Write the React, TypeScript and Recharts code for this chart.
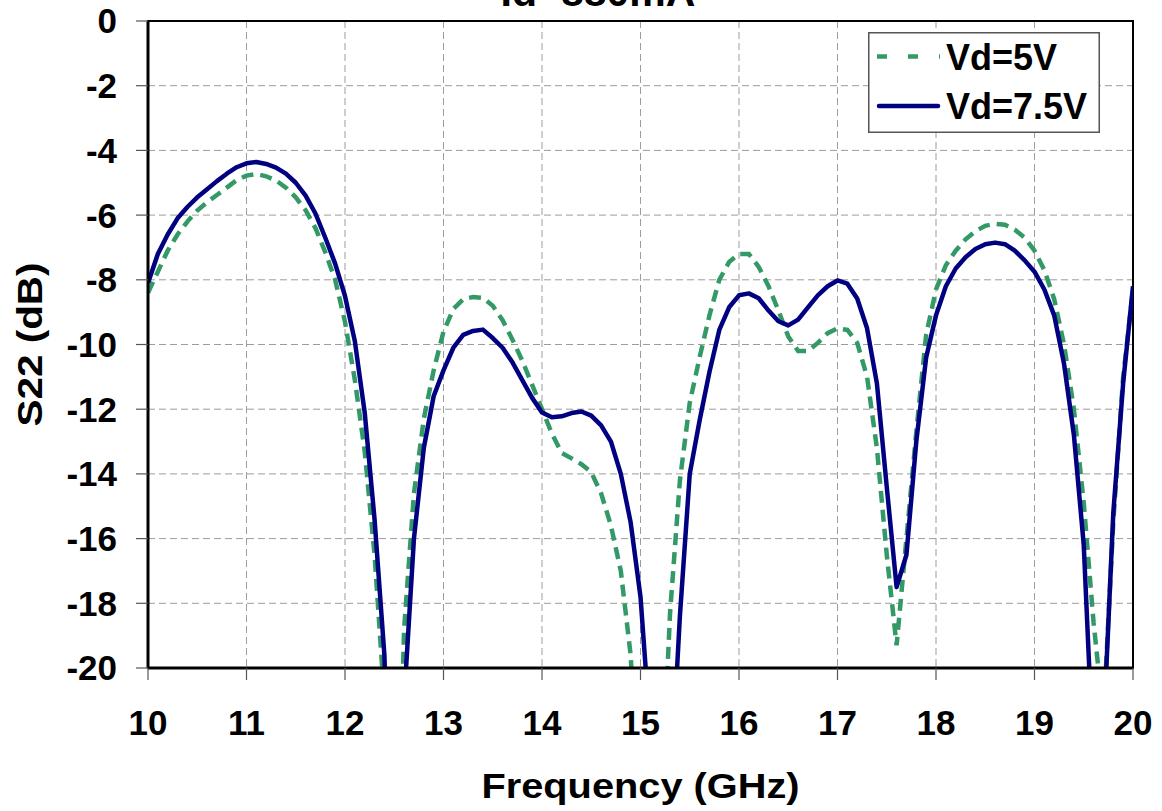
import React from 'react';
import { LineChart, Line, XAxis, YAxis, CartesianGrid, Legend, ReferenceArea, Label } from 'recharts';

const FONT = '"Liberation Sans", Arial, Helvetica, sans-serif';

const freqGHz: number[] = [
  10.0, 10.1, 10.2, 10.3, 10.4, 10.5, 10.6, 10.7, 10.8, 10.9,
  11.0, 11.1, 11.2, 11.3, 11.4, 11.5, 11.6, 11.7, 11.8, 11.9,
  12.0, 12.1, 12.2, 12.3, 12.4, 12.5, 12.6, 12.7, 12.8, 12.9,
  13.0, 13.1, 13.2, 13.3, 13.4, 13.5, 13.6, 13.7, 13.8, 13.9,
  14.0, 14.1, 14.2, 14.3, 14.4, 14.5, 14.6, 14.7, 14.8, 14.9,
  15.0, 15.1, 15.2, 15.3, 15.4, 15.5, 15.6, 15.7, 15.8, 15.9,
  16.0, 16.1, 16.2, 16.3, 16.4, 16.5, 16.6, 16.7, 16.8, 16.9,
  17.0, 17.1, 17.2, 17.3, 17.4, 17.5, 17.6, 17.7, 17.8, 17.9,
  18.0, 18.1, 18.2, 18.3, 18.4, 18.5, 18.6, 18.7, 18.8, 18.9,
  19.0, 19.1, 19.2, 19.3, 19.4, 19.5, 19.6, 19.7, 19.8, 19.9,
  20.0,
];

const s22Vd5: number[] = [
  -8.4, -7.75, -7.1, -6.6, -6.2, -5.86, -5.6, -5.38, -5.15, -4.92,
  -4.78, -4.73, -4.8, -4.93, -5.15, -5.45, -5.85, -6.4, -7.15, -8.0,
  -9.3, -11.1, -13.3, -16.5, -21, -30, -18.8, -14.6, -12.3, -10.8,
  -9.6, -8.9, -8.6, -8.53, -8.56, -8.8, -9.25, -9.85, -10.5, -11.25,
  -12.0, -12.75, -13.35, -13.52, -13.7, -13.95, -14.6, -15.6, -17.0, -19.6,
  -25, -30, -25, -18.3, -14.2, -11.8, -10.4, -9.1, -8.0, -7.45,
  -7.2, -7.2, -7.6, -8.2, -8.95, -9.75, -10.2, -10.2, -9.95, -9.65,
  -9.5, -9.55, -9.95, -11.0, -13.2, -16.5, -19.3, -16.0, -12.7, -9.7,
  -8.3, -7.55, -7.1, -6.75, -6.5, -6.33, -6.27, -6.3, -6.45, -6.7,
  -7.1, -7.7, -8.6, -10.0, -12.0, -14.9, -18.6, -21.5, -15.5, -11.0,
  -8.3,
];

const s22Vd75: number[] = [
  -8.1, -7.2, -6.6, -6.1, -5.75, -5.45, -5.2, -4.95, -4.72, -4.52,
  -4.4, -4.36, -4.42, -4.53, -4.72, -5.0, -5.4, -5.95, -6.7, -7.5,
  -8.5, -9.9, -12.1, -15.4, -19.6, -30, -21, -16.0, -13.2, -11.6,
  -10.8, -10.1, -9.7, -9.58, -9.54, -9.8, -10.1, -10.55, -11.1, -11.65,
  -12.1, -12.25, -12.22, -12.12, -12.07, -12.2, -12.5, -13.0, -14.0, -15.5,
  -17.8, -22, -30, -24, -18.4, -14.0, -12.35, -10.85, -9.55, -8.85,
  -8.48, -8.42, -8.57, -8.95, -9.28, -9.41, -9.23, -8.85, -8.48, -8.2,
  -8.02, -8.12, -8.58, -9.5, -11.2, -14.4, -17.5, -16.5, -13.0, -10.4,
  -9.1, -8.2, -7.65, -7.3, -7.05, -6.9, -6.85, -6.9, -7.1, -7.4,
  -7.75, -8.3, -9.1, -10.6, -12.8, -16.2, -23, -22, -15.2, -11.2,
  -8.2,
];

const xTicks: number[] = [10, 11, 12, 13, 14, 15, 16, 17, 18, 19, 20];
const yTicks: number[] = [0, -2, -4, -6, -8, -10, -12, -14, -16, -18, -20];

const seriesNames = ['Vd=5V', 'Vd=7.5V'];
const titleText = 'Id=880mA';
const xTitle = 'Frequency (GHz)';
const yTitle = 'S22 (dB)';

const GREEN = '#339966';
const NAVY = '#000080';

const data = freqGHz.map((f, i) => ({ f, vd5: s22Vd5[i], vd75: s22Vd75[i] }));

const tickStyle = { fill: '#000', fontSize: 35, fontWeight: 'bold' as const, fontFamily: FONT };

const renderLegend = () => (
  <svg width={232} height={101} style={{ display: 'block' }}>
    <rect x={0.75} y={0.75} width={230.5} height={99.5} fill="#fff" stroke="#555" strokeWidth={1.5} />
    <line x1={9} y1={24.5} x2={72} y2={24.5} stroke={GREEN} strokeWidth={4.5} strokeDasharray="10 21" />
    <text x={78} y={38} fontFamily={FONT} fontWeight="bold" fontSize={36} fill="#000">{seriesNames[0]}</text>
    <line x1={11} y1={74} x2={70} y2={74} stroke={NAVY} strokeWidth={4.5} strokeLinecap="round" />
    <text x={78} y={87} fontFamily={FONT} fontWeight="bold" fontSize={36} fill="#000">{seriesNames[1]}</text>
  </svg>
);

const XTitle = (props: any) => {
  const vb = props.viewBox || { x: 148, y: 668, width: 985, height: 143 };
  const cx = vb.x + vb.width / 2;
  return (
    <text
      x={cx}
      y={vb.y + vb.height - 13}
      textAnchor="middle"
      fontFamily={FONT}
      fontWeight="bold"
      fontSize={35}
      fill="#000"
      textLength={318}
      lengthAdjust="spacingAndGlyphs"
    >
      {xTitle}
    </text>
  );
};

const YTitle = (props: any) => {
  const vb = props.viewBox || { x: 0, y: 21, width: 148, height: 647 };
  const cx = vb.x + 42;
  const cy = vb.y + vb.height / 2;
  return (
    <text
      x={cx}
      y={cy}
      transform={`rotate(-90 ${cx} ${cy})`}
      textAnchor="middle"
      fontFamily={FONT}
      fontWeight="bold"
      fontSize={35}
      fill="#000"
      textLength={164}
      lengthAdjust="spacingAndGlyphs"
    >
      {yTitle}
    </text>
  );
};

export default function App() {
  return (
    <div style={{ position: 'absolute', left: 0, top: 0, width: 1162, height: 811, background: '#fff', overflow: 'hidden' }}>
      <div
        style={{
          position: 'absolute', left: 298, top: -29, width: 600, textAlign: 'center',
          fontFamily: FONT, fontWeight: 'bold', fontSize: 41, lineHeight: '42px', color: '#000',
        }}
      >
        {titleText}
      </div>
      <LineChart width={1162} height={811} data={data} margin={{ top: 21, right: 29, bottom: 0, left: 0 }}>
        <CartesianGrid stroke="#9c9c9c" strokeWidth={1} strokeDasharray="7 4" />
        <XAxis
          dataKey="f"
          type="number"
          domain={[10, 20]}
          ticks={xTicks}
          allowDataOverflow
          height={143}
          tickSize={12}
          tickMargin={30}
          tick={tickStyle}
          tickLine={{ stroke: '#555', strokeWidth: 1.2 }}
          axisLine={{ stroke: '#000', strokeWidth: 3 }}
        >
          <Label content={XTitle} />
        </XAxis>
        <YAxis
          type="number"
          domain={[-20, 0]}
          ticks={yTicks}
          allowDataOverflow
          width={148}
          tickSize={12}
          tickMargin={19}
          tick={tickStyle}
          tickLine={{ stroke: '#555', strokeWidth: 1.2 }}
          axisLine={{ stroke: '#000', strokeWidth: 3 }}
        >
          <Label content={YTitle} />
        </YAxis>
        <ReferenceArea x1={10} x2={20} y1={-20} y2={0} fill="none" stroke="#000" strokeWidth={2} />
        <Line
          type="linear"
          dataKey="vd5"
          name={seriesNames[0]}
          stroke={GREEN}
          strokeWidth={4.5}
          strokeDasharray="12 7"
          dot={false}
          activeDot={false}
          isAnimationActive={false}
        />
        <Line
          type="linear"
          dataKey="vd75"
          name={seriesNames[1]}
          stroke={NAVY}
          strokeWidth={4.5}
          strokeLinejoin="round"
          dot={false}
          activeDot={false}
          isAnimationActive={false}
        />
        <Legend
          layout="horizontal"
          verticalAlign="middle"
          align="center"
          content={renderLegend}
          wrapperStyle={{ position: 'absolute', left: 868, top: 32, width: 232, height: 101 }}
        />
      </LineChart>
    </div>
  );
}
